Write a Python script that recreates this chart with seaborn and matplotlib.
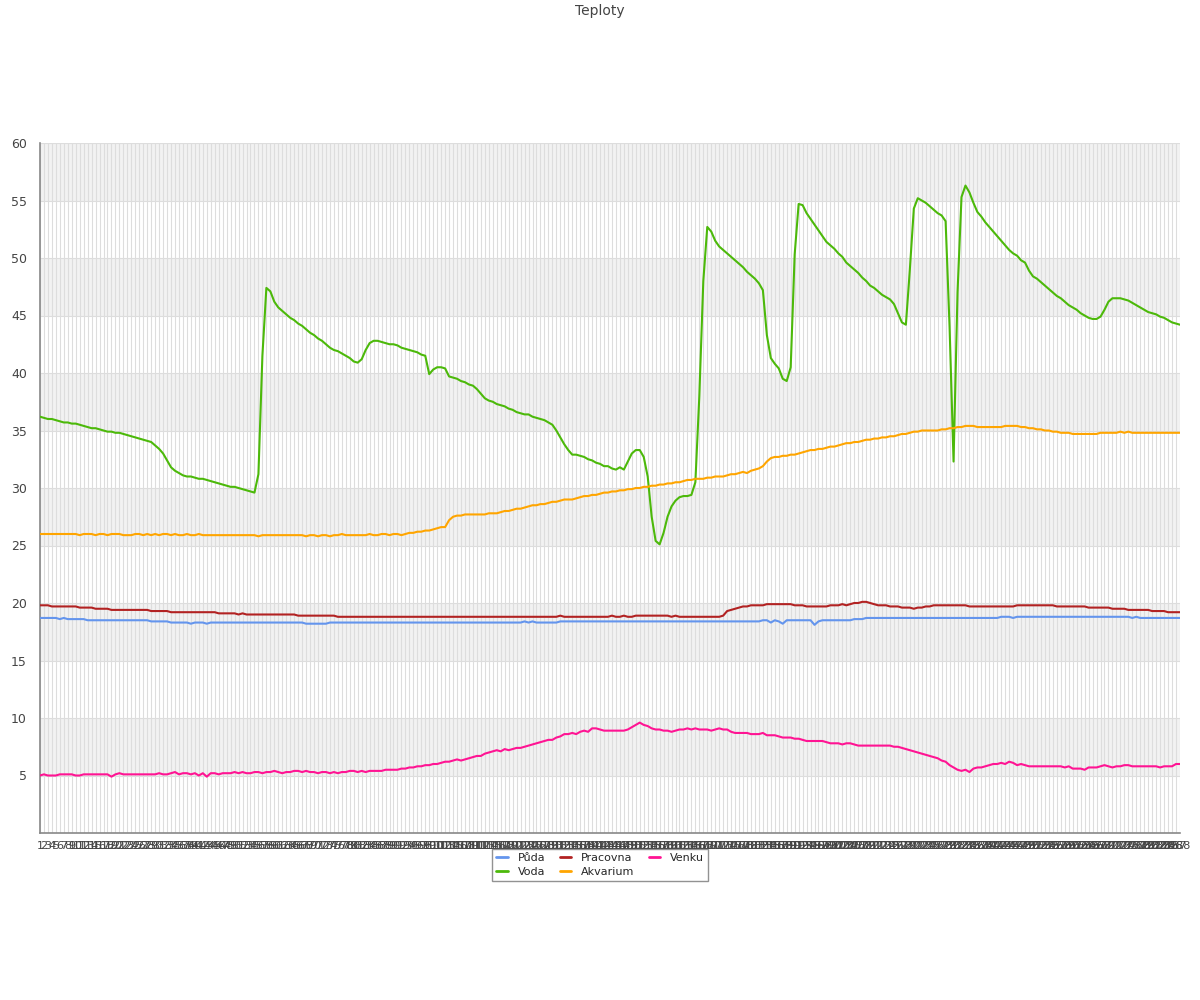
import pandas as pd
import seaborn as sns
import matplotlib.pyplot as plt
import matplotlib.ticker as mticker
import numpy as np

# --- data (288 samples, labelled 1..288) ---
labels = [str(i) for i in range(1, 289)]

puda = [
    18.7, 18.7, 18.7, 18.7, 18.7, 18.6, 18.7, 18.6, 18.6, 18.6,
    18.6, 18.6, 18.5, 18.5, 18.5, 18.5, 18.5, 18.5, 18.5, 18.5,
    18.5, 18.5, 18.5, 18.5, 18.5, 18.5, 18.5, 18.5, 18.4, 18.4,
    18.4, 18.4, 18.4, 18.3, 18.3, 18.3, 18.3, 18.3, 18.2, 18.3,
    18.3, 18.3, 18.2, 18.3, 18.3, 18.3, 18.3, 18.3, 18.3, 18.3,
    18.3, 18.3, 18.3, 18.3, 18.3, 18.3, 18.3, 18.3, 18.3, 18.3,
    18.3, 18.3, 18.3, 18.3, 18.3, 18.3, 18.3, 18.2, 18.2, 18.2,
    18.2, 18.2, 18.2, 18.3, 18.3, 18.3, 18.3, 18.3, 18.3, 18.3,
    18.3, 18.3, 18.3, 18.3, 18.3, 18.3, 18.3, 18.3, 18.3, 18.3,
    18.3, 18.3, 18.3, 18.3, 18.3, 18.3, 18.3, 18.3, 18.3, 18.3,
    18.3, 18.3, 18.3, 18.3, 18.3, 18.3, 18.3, 18.3, 18.3, 18.3,
    18.3, 18.3, 18.3, 18.3, 18.3, 18.3, 18.3, 18.3, 18.3, 18.3,
    18.3, 18.3, 18.4, 18.3, 18.4, 18.3, 18.3, 18.3, 18.3, 18.3,
    18.3, 18.4, 18.4, 18.4, 18.4, 18.4, 18.4, 18.4, 18.4, 18.4,
    18.4, 18.4, 18.4, 18.4, 18.4, 18.4, 18.4, 18.4, 18.4, 18.4,
    18.4, 18.4, 18.4, 18.4, 18.4, 18.4, 18.4, 18.4, 18.4, 18.4,
    18.4, 18.4, 18.4, 18.4, 18.4, 18.4, 18.4, 18.4, 18.4, 18.4,
    18.4, 18.4, 18.4, 18.4, 18.4, 18.4, 18.4, 18.4, 18.4, 18.4,
    18.4, 18.4, 18.5, 18.5, 18.3, 18.5, 18.4, 18.2, 18.5, 18.5,
    18.5, 18.5, 18.5, 18.5, 18.5, 18.1, 18.4, 18.5, 18.5, 18.5,
    18.5, 18.5, 18.5, 18.5, 18.5, 18.6, 18.6, 18.6, 18.7, 18.7,
    18.7, 18.7, 18.7, 18.7, 18.7, 18.7, 18.7, 18.7, 18.7, 18.7,
    18.7, 18.7, 18.7, 18.7, 18.7, 18.7, 18.7, 18.7, 18.7, 18.7,
    18.7, 18.7, 18.7, 18.7, 18.7, 18.7, 18.7, 18.7, 18.7, 18.7,
    18.7, 18.7, 18.8, 18.8, 18.8, 18.7, 18.8, 18.8, 18.8, 18.8,
    18.8, 18.8, 18.8, 18.8, 18.8, 18.8, 18.8, 18.8, 18.8, 18.8,
    18.8, 18.8, 18.8, 18.8, 18.8, 18.8, 18.8, 18.8, 18.8, 18.8,
    18.8, 18.8, 18.8, 18.8, 18.8, 18.7, 18.8, 18.7, 18.7, 18.7,
    18.7, 18.7, 18.7, 18.7, 18.7, 18.7, 18.7, 18.7,
]

voda = [
    36.2, 36.1, 36.0, 36.0, 35.9, 35.8, 35.7, 35.7, 35.6, 35.6,
    35.5, 35.4, 35.3, 35.2, 35.2, 35.1, 35.0, 34.9, 34.9, 34.8,
    34.8, 34.7, 34.6, 34.5, 34.4, 34.3, 34.2, 34.1, 34.0, 33.7,
    33.4, 33.0, 32.4, 31.8, 31.5, 31.3, 31.1, 31.0, 31.0, 30.9,
    30.8, 30.8, 30.7, 30.6, 30.5, 30.4, 30.3, 30.2, 30.1, 30.1,
    30.0, 29.9, 29.8, 29.7, 29.6, 31.2, 41.5, 47.4, 47.1, 46.2,
    45.7, 45.4, 45.1, 44.8, 44.6, 44.3, 44.1, 43.8, 43.5, 43.3,
    43.0, 42.8, 42.5, 42.2, 42.0, 41.9, 41.7, 41.5, 41.3, 41.0,
    40.9, 41.2, 42.0, 42.6, 42.8, 42.8, 42.7, 42.6, 42.5, 42.5,
    42.4, 42.2, 42.1, 42.0, 41.9, 41.8, 41.6, 41.5, 39.9, 40.3,
    40.5, 40.5, 40.4, 39.7, 39.6, 39.5, 39.3, 39.2, 39.0, 38.9,
    38.6, 38.2, 37.8, 37.6, 37.5, 37.3, 37.2, 37.1, 36.9, 36.8,
    36.6, 36.5, 36.4, 36.4, 36.2, 36.1, 36.0, 35.9, 35.7, 35.5,
    35.0, 34.4, 33.8, 33.3, 32.9, 32.9, 32.8, 32.7, 32.5, 32.4,
    32.2, 32.1, 31.9, 31.9, 31.7, 31.6, 31.8, 31.6, 32.3, 33.0,
    33.3, 33.3, 32.7, 31.0, 27.5, 25.4, 25.1, 26.1, 27.5, 28.4,
    28.9, 29.2, 29.3, 29.3, 29.4, 30.5, 38.0, 48.0, 52.7, 52.3,
    51.5, 51.0, 50.7, 50.4, 50.1, 49.8, 49.5, 49.2, 48.8, 48.5,
    48.2, 47.8, 47.2, 43.3, 41.3, 40.8, 40.4, 39.5, 39.3, 40.5,
    50.3, 54.7, 54.6, 53.9, 53.4, 52.9, 52.4, 51.9, 51.4, 51.1,
    50.8, 50.4, 50.1, 49.6, 49.3, 49.0, 48.7, 48.3, 48.0, 47.6,
    47.4, 47.1, 46.8, 46.6, 46.4, 46.0, 45.2, 44.4, 44.2, 49.0,
    54.3, 55.2, 55.0, 54.8, 54.5, 54.2, 53.9, 53.7, 53.2, 44.0,
    32.3, 47.0, 55.3, 56.3, 55.7, 54.8, 54.0, 53.6, 53.1, 52.7,
    52.3, 51.9, 51.5, 51.1, 50.7, 50.4, 50.2, 49.8, 49.6, 48.9,
    48.4, 48.2, 47.9, 47.6, 47.3, 47.0, 46.7, 46.5, 46.2, 45.9,
    45.7, 45.5, 45.2, 45.0, 44.8, 44.7, 44.7, 44.9, 45.5, 46.2,
    46.5, 46.5, 46.5, 46.4, 46.3, 46.1, 45.9, 45.7, 45.5, 45.3,
    45.2, 45.1, 44.9, 44.8, 44.6, 44.4, 44.3, 44.2,
]

pracovna = [
    19.8, 19.8, 19.8, 19.7, 19.7, 19.7, 19.7, 19.7, 19.7, 19.7,
    19.6, 19.6, 19.6, 19.6, 19.5, 19.5, 19.5, 19.5, 19.4, 19.4,
    19.4, 19.4, 19.4, 19.4, 19.4, 19.4, 19.4, 19.4, 19.3, 19.3,
    19.3, 19.3, 19.3, 19.2, 19.2, 19.2, 19.2, 19.2, 19.2, 19.2,
    19.2, 19.2, 19.2, 19.2, 19.2, 19.1, 19.1, 19.1, 19.1, 19.1,
    19.0, 19.1, 19.0, 19.0, 19.0, 19.0, 19.0, 19.0, 19.0, 19.0,
    19.0, 19.0, 19.0, 19.0, 19.0, 18.9, 18.9, 18.9, 18.9, 18.9,
    18.9, 18.9, 18.9, 18.9, 18.9, 18.8, 18.8, 18.8, 18.8, 18.8,
    18.8, 18.8, 18.8, 18.8, 18.8, 18.8, 18.8, 18.8, 18.8, 18.8,
    18.8, 18.8, 18.8, 18.8, 18.8, 18.8, 18.8, 18.8, 18.8, 18.8,
    18.8, 18.8, 18.8, 18.8, 18.8, 18.8, 18.8, 18.8, 18.8, 18.8,
    18.8, 18.8, 18.8, 18.8, 18.8, 18.8, 18.8, 18.8, 18.8, 18.8,
    18.8, 18.8, 18.8, 18.8, 18.8, 18.8, 18.8, 18.8, 18.8, 18.8,
    18.8, 18.9, 18.8, 18.8, 18.8, 18.8, 18.8, 18.8, 18.8, 18.8,
    18.8, 18.8, 18.8, 18.8, 18.9, 18.8, 18.8, 18.9, 18.8, 18.8,
    18.9, 18.9, 18.9, 18.9, 18.9, 18.9, 18.9, 18.9, 18.9, 18.8,
    18.9, 18.8, 18.8, 18.8, 18.8, 18.8, 18.8, 18.8, 18.8, 18.8,
    18.8, 18.8, 18.9, 19.3, 19.4, 19.5, 19.6, 19.7, 19.7, 19.8,
    19.8, 19.8, 19.8, 19.9, 19.9, 19.9, 19.9, 19.9, 19.9, 19.9,
    19.8, 19.8, 19.8, 19.7, 19.7, 19.7, 19.7, 19.7, 19.7, 19.8,
    19.8, 19.8, 19.9, 19.8, 19.9, 20.0, 20.0, 20.1, 20.1, 20.0,
    19.9, 19.8, 19.8, 19.8, 19.7, 19.7, 19.7, 19.6, 19.6, 19.6,
    19.5, 19.6, 19.6, 19.7, 19.7, 19.8, 19.8, 19.8, 19.8, 19.8,
    19.8, 19.8, 19.8, 19.8, 19.7, 19.7, 19.7, 19.7, 19.7, 19.7,
    19.7, 19.7, 19.7, 19.7, 19.7, 19.7, 19.8, 19.8, 19.8, 19.8,
    19.8, 19.8, 19.8, 19.8, 19.8, 19.8, 19.7, 19.7, 19.7, 19.7,
    19.7, 19.7, 19.7, 19.7, 19.6, 19.6, 19.6, 19.6, 19.6, 19.6,
    19.5, 19.5, 19.5, 19.5, 19.4, 19.4, 19.4, 19.4, 19.4, 19.4,
    19.3, 19.3, 19.3, 19.3, 19.2, 19.2, 19.2, 19.2,
]

akvarium = [
    26.0, 26.0, 26.0, 26.0, 26.0, 26.0, 26.0, 26.0, 26.0, 26.0,
    25.9, 26.0, 26.0, 26.0, 25.9, 26.0, 26.0, 25.9, 26.0, 26.0,
    26.0, 25.9, 25.9, 25.9, 26.0, 26.0, 25.9, 26.0, 25.9, 26.0,
    25.9, 26.0, 26.0, 25.9, 26.0, 25.9, 25.9, 26.0, 25.9, 25.9,
    26.0, 25.9, 25.9, 25.9, 25.9, 25.9, 25.9, 25.9, 25.9, 25.9,
    25.9, 25.9, 25.9, 25.9, 25.9, 25.8, 25.9, 25.9, 25.9, 25.9,
    25.9, 25.9, 25.9, 25.9, 25.9, 25.9, 25.9, 25.8, 25.9, 25.9,
    25.8, 25.9, 25.9, 25.8, 25.9, 25.9, 26.0, 25.9, 25.9, 25.9,
    25.9, 25.9, 25.9, 26.0, 25.9, 25.9, 26.0, 26.0, 25.9, 26.0,
    26.0, 25.9, 26.0, 26.1, 26.1, 26.2, 26.2, 26.3, 26.3, 26.4,
    26.5, 26.6, 26.6, 27.2, 27.5, 27.6, 27.6, 27.7, 27.7, 27.7,
    27.7, 27.7, 27.7, 27.8, 27.8, 27.8, 27.9, 28.0, 28.0, 28.1,
    28.2, 28.2, 28.3, 28.4, 28.5, 28.5, 28.6, 28.6, 28.7, 28.8,
    28.8, 28.9, 29.0, 29.0, 29.0, 29.1, 29.2, 29.3, 29.3, 29.4,
    29.4, 29.5, 29.6, 29.6, 29.7, 29.7, 29.8, 29.8, 29.9, 29.9,
    30.0, 30.0, 30.1, 30.1, 30.2, 30.2, 30.3, 30.3, 30.4, 30.4,
    30.5, 30.5, 30.6, 30.7, 30.7, 30.8, 30.8, 30.8, 30.9, 30.9,
    31.0, 31.0, 31.0, 31.1, 31.2, 31.2, 31.3, 31.4, 31.3, 31.5,
    31.6, 31.7, 31.9, 32.3, 32.6, 32.7, 32.7, 32.8, 32.8, 32.9,
    32.9, 33.0, 33.1, 33.2, 33.3, 33.3, 33.4, 33.4, 33.5, 33.6,
    33.6, 33.7, 33.8, 33.9, 33.9, 34.0, 34.0, 34.1, 34.2, 34.2,
    34.3, 34.3, 34.4, 34.4, 34.5, 34.5, 34.6, 34.7, 34.7, 34.8,
    34.9, 34.9, 35.0, 35.0, 35.0, 35.0, 35.0, 35.1, 35.1, 35.2,
    35.2, 35.3, 35.3, 35.4, 35.4, 35.4, 35.3, 35.3, 35.3, 35.3,
    35.3, 35.3, 35.3, 35.4, 35.4, 35.4, 35.4, 35.3, 35.3, 35.2,
    35.2, 35.1, 35.1, 35.0, 35.0, 34.9, 34.9, 34.8, 34.8, 34.8,
    34.7, 34.7, 34.7, 34.7, 34.7, 34.7, 34.7, 34.8, 34.8, 34.8,
    34.8, 34.8, 34.9, 34.8, 34.9, 34.8, 34.8, 34.8, 34.8, 34.8,
    34.8, 34.8, 34.8, 34.8, 34.8, 34.8, 34.8, 34.8,
]

venku = [
    5.0, 5.1, 5.0, 5.0, 5.0, 5.1, 5.1, 5.1, 5.1, 5.0,
    5.0, 5.1, 5.1, 5.1, 5.1, 5.1, 5.1, 5.1, 4.9, 5.1,
    5.2, 5.1, 5.1, 5.1, 5.1, 5.1, 5.1, 5.1, 5.1, 5.1,
    5.2, 5.1, 5.1, 5.2, 5.3, 5.1, 5.2, 5.2, 5.1, 5.2,
    5.0, 5.2, 4.9, 5.2, 5.2, 5.1, 5.2, 5.2, 5.2, 5.3,
    5.2, 5.3, 5.2, 5.2, 5.3, 5.3, 5.2, 5.3, 5.3, 5.4,
    5.3, 5.2, 5.3, 5.3, 5.4, 5.4, 5.3, 5.4, 5.3, 5.3,
    5.2, 5.3, 5.3, 5.2, 5.3, 5.2, 5.3, 5.3, 5.4, 5.4,
    5.3, 5.4, 5.3, 5.4, 5.4, 5.4, 5.4, 5.5, 5.5, 5.5,
    5.5, 5.6, 5.6, 5.7, 5.7, 5.8, 5.8, 5.9, 5.9, 6.0,
    6.0, 6.1, 6.2, 6.2, 6.3, 6.4, 6.3, 6.4, 6.5, 6.6,
    6.7, 6.7, 6.9, 7.0, 7.1, 7.2, 7.1, 7.3, 7.2, 7.3,
    7.4, 7.4, 7.5, 7.6, 7.7, 7.8, 7.9, 8.0, 8.1, 8.1,
    8.3, 8.4, 8.6, 8.6, 8.7, 8.6, 8.8, 8.9, 8.8, 9.1,
    9.1, 9.0, 8.9, 8.9, 8.9, 8.9, 8.9, 8.9, 9.0, 9.2,
    9.4, 9.6, 9.4, 9.3, 9.1, 9.0, 9.0, 8.9, 8.9, 8.8,
    8.9, 9.0, 9.0, 9.1, 9.0, 9.1, 9.0, 9.0, 9.0, 8.9,
    9.0, 9.1, 9.0, 9.0, 8.8, 8.7, 8.7, 8.7, 8.7, 8.6,
    8.6, 8.6, 8.7, 8.5, 8.5, 8.5, 8.4, 8.3, 8.3, 8.3,
    8.2, 8.2, 8.1, 8.0, 8.0, 8.0, 8.0, 8.0, 7.9, 7.8,
    7.8, 7.8, 7.7, 7.8, 7.8, 7.7, 7.6, 7.6, 7.6, 7.6,
    7.6, 7.6, 7.6, 7.6, 7.6, 7.5, 7.5, 7.4, 7.3, 7.2,
    7.1, 7.0, 6.9, 6.8, 6.7, 6.6, 6.5, 6.3, 6.2, 5.9,
    5.7, 5.5, 5.4, 5.5, 5.3, 5.6, 5.7, 5.7, 5.8, 5.9,
    6.0, 6.0, 6.1, 6.0, 6.2, 6.1, 5.9, 6.0, 5.9, 5.8,
    5.8, 5.8, 5.8, 5.8, 5.8, 5.8, 5.8, 5.8, 5.7, 5.8,
    5.6, 5.6, 5.6, 5.5, 5.7, 5.7, 5.7, 5.8, 5.9, 5.8,
    5.7, 5.8, 5.8, 5.9, 5.9, 5.8, 5.8, 5.8, 5.8, 5.8,
    5.8, 5.8, 5.7, 5.8, 5.8, 5.8, 6.0, 6.0,
]

series_names = ['Půda', 'Voda', 'Pracovna', 'Akvarium', 'Venku']
series_colors = ['#6495ed', '#4cb90a', '#b22222', '#ffa500', '#ff1493']

# --- long-form table for seaborn ---
frames = []
for name, vals in zip(series_names, [puda, voda, pracovna, akvarium, venku]):
    frames.append(pd.DataFrame({'idx': np.arange(len(vals)), 'value': vals, 'series': name}))
df = pd.concat(frames, ignore_index=True)

sns.set_style('white')
plt.rcParams['font.family'] = ['DejaVu Sans']

fig = plt.figure(figsize=(12, 10), dpi=100)
ax = fig.add_axes([0.0333, 0.167, 0.95, 0.69])

# alternating horizontal bands
for lo in range(5, 60, 10):
    ax.axhspan(lo, lo + 5, color='#f2f2f2', zorder=0, lw=0)

sns.lineplot(data=df, x='idx', y='value', hue='series', hue_order=series_names,
             palette=series_colors, linewidth=1.5, ax=ax, legend=True, zorder=3)

# axes
ax.set_xlim(0, len(labels) - 1)
ax.set_ylim(0, 60)
ax.set_xticks(np.arange(len(labels)))
ax.set_xticklabels(labels, fontsize=8, color='#444444')
ax.tick_params(axis='x', length=0, pad=6)
ax.set_yticks(np.arange(5, 61, 5))
ax.yaxis.set_minor_locator(mticker.MultipleLocator(1))
ax.tick_params(axis='y', which='major', length=6, color='#888888', labelsize=9,
               labelcolor='#444444', direction='out')
ax.tick_params(axis='y', which='minor', length=3, color='#888888', direction='out')
ax.grid(True, axis='both', which='major', color='#dddddd', linewidth=0.8, zorder=1)
ax.set_axisbelow(True)
ax.set_xlabel('')
ax.set_ylabel('')
for s in ['top', 'right']:
    ax.spines[s].set_visible(False)
for s in ['left', 'bottom']:
    ax.spines[s].set_color('#888888')
    ax.spines[s].set_linewidth(1.2)

# legend below the plot, three columns
handles, lbls = ax.get_legend_handles_labels()
ax.get_legend().remove()
leg = fig.legend(handles, lbls, loc='upper center', bbox_to_anchor=(0.5, 0.157),
                 ncol=3, fontsize=8, frameon=True, fancybox=False, handlelength=1.0,
                 columnspacing=1.3, borderpad=0.4, labelspacing=0.35, handletextpad=0.9)
leg.get_frame().set_edgecolor('#777777')
leg.get_frame().set_linewidth(1.0)
for line in leg.get_lines():
    line.set_linewidth(2.0)

fig.text(0.5, 0.989, 'Teploty', ha='center', va='center', fontsize=10, color='#444444')

fig.savefig('out.png', dpi=100)
